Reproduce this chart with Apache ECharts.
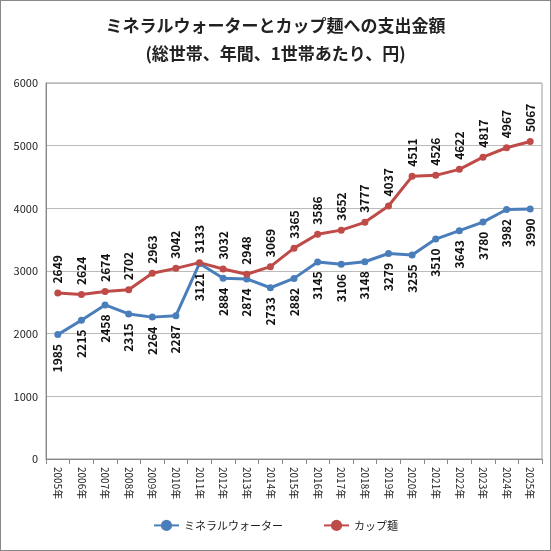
<!DOCTYPE html>
<html><head><meta charset="utf-8">
<script src="https://cdn.jsdelivr.net/npm/echarts@6/dist/echarts.min.js"></script>
<style>body{margin:0}#c{width:551px;height:551px;box-sizing:border-box;border:1px solid #888}</style>
</head><body><div id="c"></div>
<script>
var years = ['2005年','2006年','2007年','2008年','2009年','2010年','2011年','2012年','2013年','2014年','2015年','2016年','2017年','2018年','2019年','2020年','2021年','2022年','2023年','2024年','2025年'];
var mineral = [1985,2215,2458,2315,2264,2287,3121,2884,2874,2733,2882,3145,3106,3148,3279,3255,3510,3643,3780,3982,3990];
var cup = [2649,2624,2674,2702,2963,3042,3133,3032,2948,3069,3365,3586,3652,3777,4037,4511,4526,4622,4817,4967,5067];

var myChart = echarts.init(document.getElementById('c'));
var font = '"Noto Sans CJK JP", sans-serif';
var option = {
    textStyle: {fontFamily: font},
    title: {
        text: 'ミネラルウォーターとカップ麺への支出金額\n(総世帯、年間、1世帯あたり、円)',
        left: 'center', top: 6,
        textStyle: {fontSize: 17, fontWeight: 'bold', color: '#222', lineHeight: 28, fontFamily: font}
    },
    legend: {
        bottom: 14, left: 'center', itemGap: 40,
        textStyle: {fontSize: 11, color: '#222'},
        data: ['ミネラルウォーター', 'カップ麺']
    },
    grid: {left: 45, right: 8, top: 82, bottom: 91, containLabel: false,
        show: true, borderColor: '#999'},
    xAxis: {
        type: 'category', data: years, boundaryGap: true,
        axisLine: {lineStyle: {color: '#888'}},
        axisTick: {show: true, alignWithLabel: false},
        axisLabel: {rotate: -90, fontSize: 10, color: '#222', interval: 0}
    },
    yAxis: {
        type: 'value', min: 0, max: 6000, interval: 1000,
        axisLine: {show: true, lineStyle: {color: '#888'}},
        splitLine: {lineStyle: {color: '#bbb'}},
        axisLabel: {fontSize: 11, color: '#222', formatter: function (v) { return String(v); }}
    },
    series: [
        {
            name: 'ミネラルウォーター', type: 'line', data: mineral,
            symbol: 'circle', symbolSize: 7,
            lineStyle: {width: 3, color: '#4a7ebb'},
            itemStyle: {color: '#4a7ebb'},
            label: {show: true, position: 'bottom', rotate: 90, align: 'right', verticalAlign: 'middle', distance: 6,
                fontSize: 12, fontWeight: 'bold', color: '#111'}
        },
        {
            name: 'カップ麺', type: 'line', data: cup,
            symbol: 'circle', symbolSize: 7,
            lineStyle: {width: 3, color: '#be4b48'},
            itemStyle: {color: '#be4b48'},
            label: {show: true, position: 'top', rotate: 90, align: 'left', verticalAlign: 'middle', distance: 6,
                fontSize: 12, fontWeight: 'bold', color: '#111'}
        }
    ]
};
option && myChart.setOption(option);
</script></body></html>
